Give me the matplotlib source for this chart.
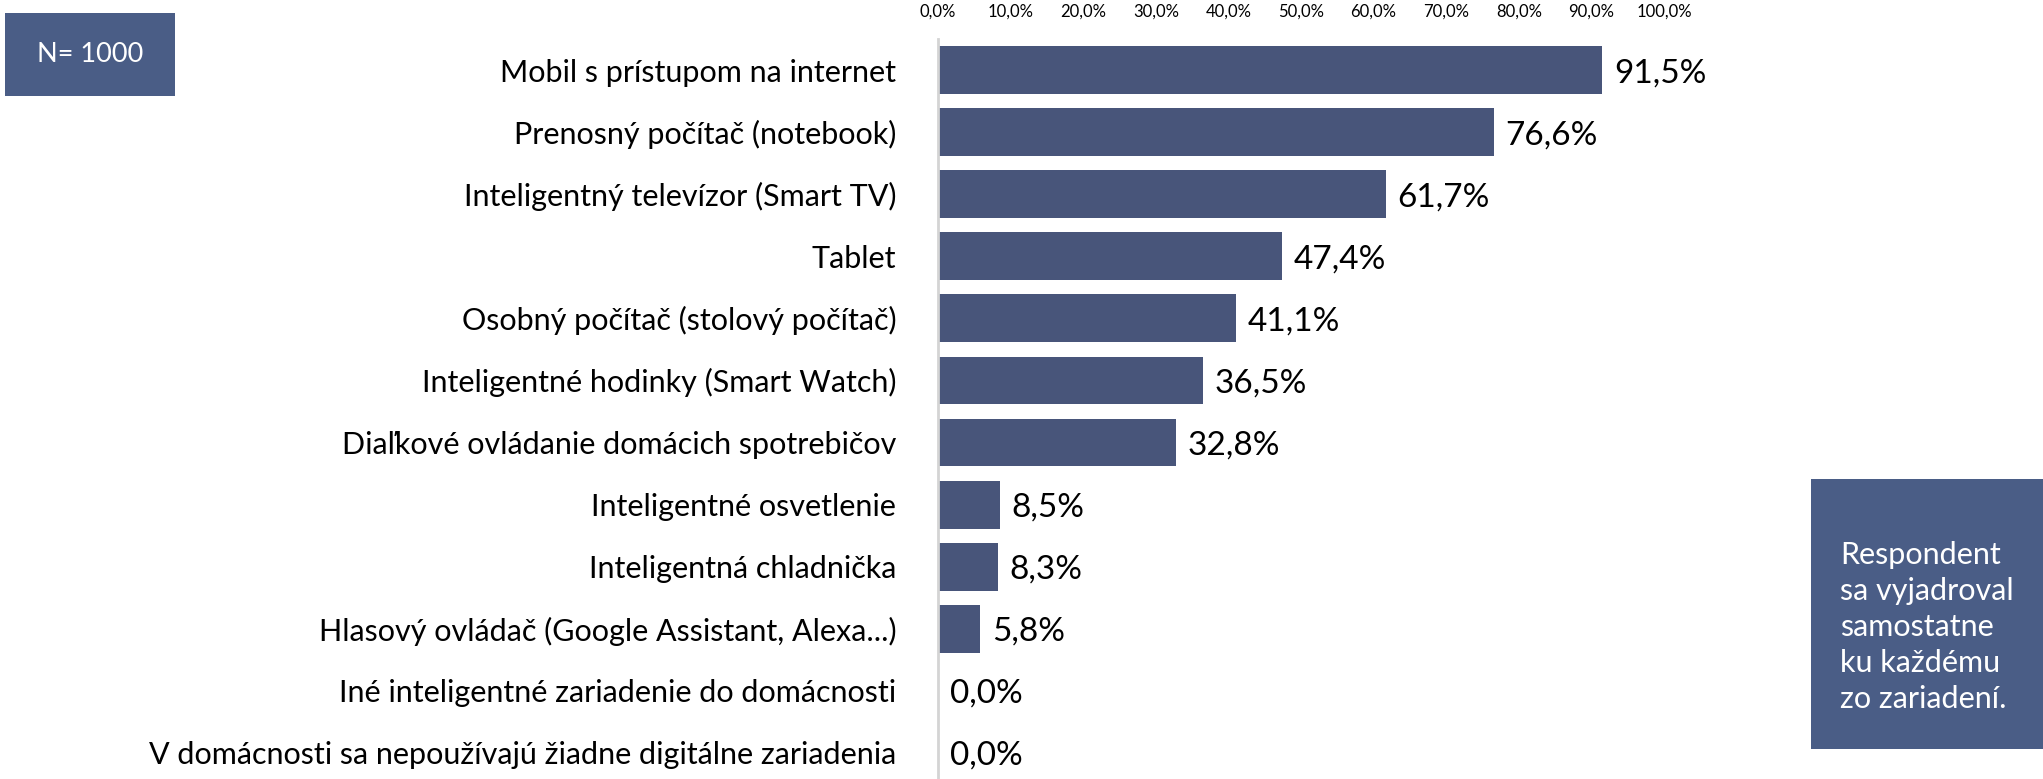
import matplotlib.pyplot as plt
from matplotlib.patches import Rectangle

# data
categories = [
    "Mobil s prístupom na internet",
    "Prenosný počítač (notebook)",
    "Inteligentný televízor (Smart TV)",
    "Tablet",
    "Osobný počítač (stolový počítač)",
    "Inteligentné hodinky (Smart Watch)",
    "Diaľkové ovládanie domácich spotrebičov",
    "Inteligentné osvetlenie",
    "Inteligentná chladnička",
    "Hlasový ovládač (Google Assistant, Alexa...)",
    "Iné inteligentné zariadenie do domácnosti",
    "V domácnosti sa nepoužívajú žiadne digitálne zariadenia",
]
values = [91.5, 76.6, 61.7, 47.4, 41.1, 36.5, 32.8, 8.5, 8.3, 5.8, 0.0, 0.0]
ticks = [0, 10, 20, 30, 40, 50, 60, 70, 80, 90, 100]
n_text = "N= 1000"
note_text = "Respondent\nsa vyjadroval\nsamostatne\nku každému\nzo zariadení."

BAR = "#48557a"
BOX = "#4a5d86"

plt.rcParams['font.family'] = ['Lato', 'DejaVu Sans']

W, H = 2043, 779
fig = plt.figure(figsize=(W / 100, H / 100), dpi=100)
ax = fig.add_axes([938 / W, 0, (1664 - 938) / W, 1 - 39 / H])

ypos = list(range(len(categories)))
ax.barh(ypos, values, height=0.77, color=BAR)
ax.set_xlim(0, 100)
ax.set_ylim(11.42, -0.5)

for y, v in zip(ypos, values):
    ax.text(v + 1.6, y + 0.05, f"{v:.1f}%".replace(".", ","), va="center", ha="left",
            fontsize=24, color="black")

ax.set_yticks(ypos)
ax.set_yticklabels(categories, fontsize=22)
ax.tick_params(axis="y", length=0, pad=30)
ax.xaxis.tick_top()
ax.set_xticks(ticks)
ax.set_xticklabels([f"{t:.1f}%".replace(".", ",") for t in ticks], fontsize=12)
ax.tick_params(axis="x", length=0, pad=14)

for s in ["top", "right", "bottom"]:
    ax.spines[s].set_visible(False)
ax.spines["left"].set_color("#d4d4d4")
ax.spines["left"].set_linewidth(2)

# N box
fig.patches.append(Rectangle((5 / W, 1 - 96 / H), 170 / W, 83 / H, transform=fig.transFigure,
                             facecolor=BOX, edgecolor="none"))
fig.text(90 / W, 1 - 55 / H, n_text, ha="center", va="center", color="white", fontsize=19.5)

# note box
fig.patches.append(Rectangle((1811 / W, 1 - 749 / H), 232 / W, 270 / H, transform=fig.transFigure,
                             facecolor=BOX, edgecolor="none"))
fig.text(1840 / W, 1 - 627 / H, note_text, ha="left", va="center", color="white",
         fontsize=22, linespacing=1.35)

fig.savefig("out.png", dpi=100)
